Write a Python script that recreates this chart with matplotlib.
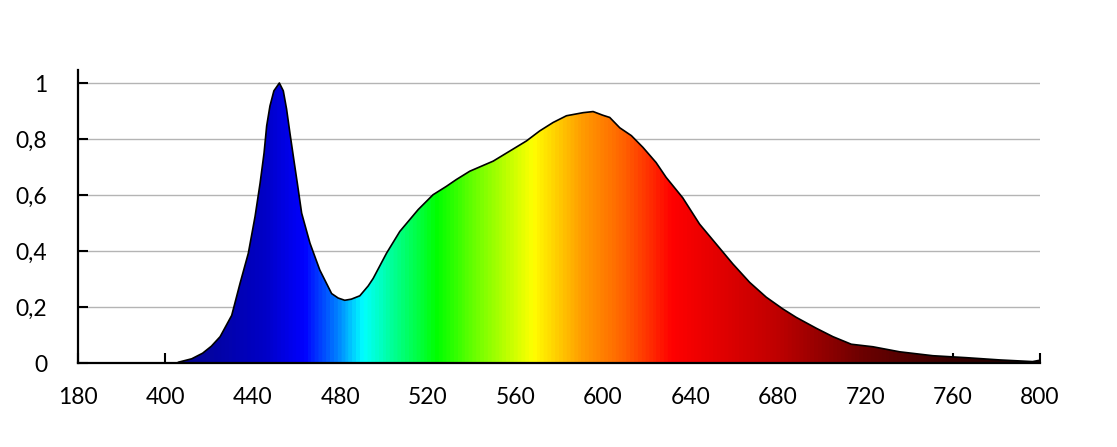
import numpy as np
import matplotlib.pyplot as plt
from matplotlib.colors import LinearSegmentedColormap

plt.rcParams['font.family'] = ['Lato', 'DejaVu Sans']

# spectrum (wavelength nm, relative intensity)
wavelength = [406, 412, 417, 421, 425, 430.3, 434.1, 437.9, 441, 443.3, 445.1, 446.3,
              447.8, 449.6, 452.1, 453.9, 455.4, 456.9, 458.7, 460.3, 462.3, 466.1,
              470.6, 476, 479, 482, 485, 488.9, 492.7, 495, 501.1, 507.2, 515.6, 522.4,
              528.5, 533, 539.2, 549.9, 557.5, 565.1, 571.2, 577.3, 583.4, 591, 595.6,
              600, 603.2, 607.8, 613.1, 618.4, 624.4, 629, 636.6, 644.3, 651.9, 659.5,
              667.2, 674.8, 682.4, 688.5, 697.7, 705.3, 713.7, 723.6, 735.8, 751, 766.3,
              781.5, 796.6, 800]
intensity = [0.003, 0.015, 0.035, 0.06, 0.094, 0.17, 0.284, 0.392, 0.524, 0.643, 0.75,
             0.847, 0.918, 0.972, 1.0, 0.972, 0.907, 0.823, 0.727, 0.643, 0.535, 0.428,
             0.332, 0.248, 0.232, 0.224, 0.228, 0.24, 0.275, 0.302, 0.392, 0.47, 0.548,
             0.601, 0.631, 0.655, 0.685, 0.721, 0.757, 0.793, 0.829, 0.859, 0.883, 0.894,
             0.898, 0.885, 0.877, 0.84, 0.812, 0.77, 0.716, 0.663, 0.59, 0.496, 0.425,
             0.354, 0.288, 0.235, 0.193, 0.163, 0.124, 0.094, 0.067, 0.058, 0.04, 0.026,
             0.019, 0.011, 0.005, 0.01]

x_ticks = [360, 400, 440, 480, 520, 560, 600, 640, 680, 720, 760, 800]
x_labels = ['180', '400', '440', '480', '520', '560', '600', '640', '680', '720', '760', '800']
y_ticks = [0, 0.2, 0.4, 0.6, 0.8, 1.0]
y_labels = ['0', '0,2', '0,4', '0,6', '0,8', '1']

# colour stops for the spectrum fill
stops_nm = [360, 405, 445, 463, 478, 490, 505, 524, 545, 568, 590, 610, 632, 680, 720, 760, 800]
stops_rgb = [(0.02, 0.02, 0.5), (0.02, 0.02, 0.55), (0.0, 0.0, 0.78), (0.0, 0.0, 1.0),
             (0.0, 0.5, 1.0), (0.0, 1.0, 1.0), (0.0, 1.0, 0.55), (0.0, 1.0, 0.0),
             (0.5, 1.0, 0.0), (1.0, 1.0, 0.0), (1.0, 0.62, 0.0), (1.0, 0.38, 0.0),
             (1.0, 0.0, 0.0), (0.75, 0.0, 0.0), (0.42, 0.0, 0.0), (0.22, 0.0, 0.0),
             (0.1, 0.0, 0.0)]

x0, x1 = 360, 800
cmap = LinearSegmentedColormap.from_list(
    'spec', [((n - x0) / (x1 - x0), c) for n, c in zip(stops_nm, stops_rgb)])

fig = plt.figure(figsize=(11.17, 4.47), dpi=100)
ax = fig.add_axes([78 / 1117, 84 / 447, 962 / 1117, 293 / 447])

ax.set_xlim(x0, x1)
ax.set_ylim(0, 293 / 280)

grad = np.linspace(0, 1, 1000).reshape(1, -1)
im = ax.imshow(grad, cmap=cmap, aspect='auto', extent=[x0, x1, 0, 1.05],
               origin='lower', zorder=2)
poly = ax.fill_between(wavelength, intensity, 0, color='none', zorder=2)
im.set_clip_path(poly.get_paths()[0], transform=ax.transData)
ax.plot(wavelength, intensity, color='black', lw=1.2, zorder=3)

for v in y_ticks[1:]:
    ax.axhline(v, color='#b4b4b4', lw=1, zorder=1)

ax.set_xticks(x_ticks)
ax.set_xticklabels(x_labels)
ax.set_yticks(y_ticks)
ax.set_yticklabels(y_labels)
ax.tick_params(axis='both', direction='in', length=7, width=1.5, labelsize=16.5,
               colors='black')
ax.tick_params(axis='x', pad=17)
ax.tick_params(axis='y', pad=22)

for s in ['top', 'right']:
    ax.spines[s].set_visible(False)
for s in ['left', 'bottom']:
    ax.spines[s].set_linewidth(1.6)
    ax.spines[s].set_zorder(4)

fig.savefig('out.png', dpi=100)
